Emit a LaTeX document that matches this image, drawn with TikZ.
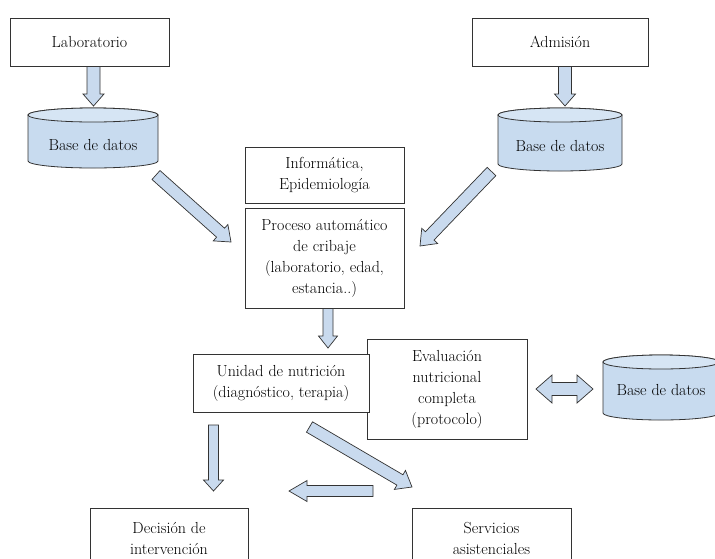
\documentclass[tikz,border=0pt]{standalone}
\usetikzlibrary{calc}
\definecolor{arrowblue}{HTML}{C9DAEE}
\definecolor{dbblue}{HTML}{C8DBEF}
\definecolor{dbtop}{HTML}{D6E5F4}
\definecolor{edge}{HTML}{333333}
\tikzset{
  txt/.style={font=\fontsize{16pt}{21pt}\selectfont},
  box/.style={txt, draw=edge, line width=0.8pt, fill=white, align=center, inner sep=0pt},
  arrowbody/.style={draw=edge, line width=0.7pt, fill=arrowblue, line join=miter},
  dbbody/.style={draw=edge, line width=0.8pt, fill=dbblue},
  dbtext/.style={txt, inner sep=0pt}
}
% block arrow: from, to, half shaft, half head, head length
\newcommand\blockarrow[5]{%
  \coordinate (bantmp) at ($(#2)!#5!(#1)$);
  \draw[arrowbody] ($(#1)!#3!90:(#2)$) -- ($(bantmp)!#3!90:(#2)$) -- ($(bantmp)!#4!90:(#2)$)
    -- (#2) -- ($(bantmp)!#4!-90:(#2)$) -- ($(bantmp)!#3!-90:(#2)$) -- ($(#1)!#3!-90:(#2)$) -- cycle;}
% double block arrow
\newcommand\dblarrow[5]{%
  \coordinate (dbnA) at ($(#1)!#5!(#2)$);
  \coordinate (dbnB) at ($(#2)!#5!(#1)$);
  \draw[arrowbody] (#1) -- ($(dbnA)!#4!90:(#2)$) -- ($(dbnA)!#3!90:(#2)$) -- ($(dbnB)!#3!-90:(#1)$)
    -- ($(dbnB)!#4!-90:(#1)$) -- (#2) -- ($(dbnB)!#4!90:(#1)$) -- ($(dbnB)!#3!90:(#1)$)
    -- ($(dbnA)!#3!-90:(#2)$) -- ($(dbnA)!#4!-90:(#2)$) -- cycle;}
% cylinder: name, cx, rx, top, bottom, text y
\newcommand\dbcyl[6]{%
  \path[dbbody] (#2-#3,#4+7) -- (#2-#3,#5-7) arc[start angle=180,end angle=360,x radius=#3pt,y radius=7pt]
    -- (#2+#3,#4+7) arc[start angle=0,end angle=180,x radius=#3pt,y radius=7pt] -- cycle;
  \draw[dbbody, fill=dbtop] (#2,#4+7) ellipse[x radius=#3pt,y radius=7pt];
  \node[dbtext] (#1) at (#2,#6) {Base de datos};}
\begin{document}
\begin{tikzpicture}[x=1pt,y=-1pt]
\useasboundingbox (0,0) rectangle (715,558);
\clip (0,0) rectangle (715,558);
\fill[white] (0,0) rectangle (715,558);

% boxes
\node[box, minimum width=159pt, minimum height=48pt] (lab) at (89.5,42) {Laboratorio};
\node[box, minimum width=176pt, minimum height=48pt] (adm) at (560,42) {Admisión};
\node[box, minimum width=159pt, minimum height=56pt] (inf) at (324.5,175) {Informática,\\Epidemiología};
\node[box, minimum width=159pt, minimum height=100pt] (proc) at (324.5,258) {Proceso automático\\de cribaje\\(laboratorio, edad,\\estancia..)};
\node[box, minimum width=160pt, minimum height=100pt] (eva) at (447,389) {Evaluación\\nutricional\\completa\\(protocolo)};
\node[box, minimum width=176pt, minimum height=58pt] (uni) at (281,383) {Unidad de nutrición\\(diagnóstico, terapia)};
\node[box, minimum width=158pt, minimum height=60pt] (dec) at (169,538) {Decisión de\\intervención};
\node[box, minimum width=159pt, minimum height=60pt] (ser) at (491.5,538) {Servicios\\asistenciales};

% databases
\dbcyl{db1}{93}{65}{108}{168}{145}
\dbcyl{db2}{560}{62}{108}{171}{146}
\dbcyl{db3}{661}{58}{355}{420}{390}

% arrow end points
\coordinate (a1s) at (93.5,66.5);   \coordinate (a1e) at (93.5,106);
\coordinate (a2s) at (565,66.5);    \coordinate (a2e) at (565,106);
\coordinate (a3s) at (156,175);     \coordinate (a3e) at (231,242);
\coordinate (a4s) at (491.5,171.5); \coordinate (a4e) at (420,246);
\coordinate (a5s) at (328,308.5);   \coordinate (a5e) at (328,348);
\coordinate (a6s) at (213.5,425);   \coordinate (a6e) at (213.5,491);
\coordinate (a7s) at (309.5,427);   \coordinate (a7e) at (412,487);
\coordinate (a8s) at (373,491);     \coordinate (a8e) at (289,491);
\coordinate (a9s) at (536,389);     \coordinate (a9e) at (593,389);

\blockarrow{a1s}{a1e}{6.5pt}{10.5pt}{12pt}
\blockarrow{a2s}{a2e}{6.5pt}{10.5pt}{12pt}
\blockarrow{a3s}{a3e}{6pt}{11pt}{14pt}
\blockarrow{a4s}{a4e}{6pt}{11pt}{14pt}
\blockarrow{a5s}{a5e}{5pt}{9.5pt}{12pt}
\blockarrow{a6s}{a6e}{5pt}{10pt}{11pt}
\blockarrow{a7s}{a7e}{6pt}{11pt}{14pt}
\blockarrow{a8s}{a8e}{5.5pt}{10.5pt}{18pt}
\dblarrow{a9s}{a9e}{6.5pt}{14pt}{16pt}
\end{tikzpicture}
\end{document}
